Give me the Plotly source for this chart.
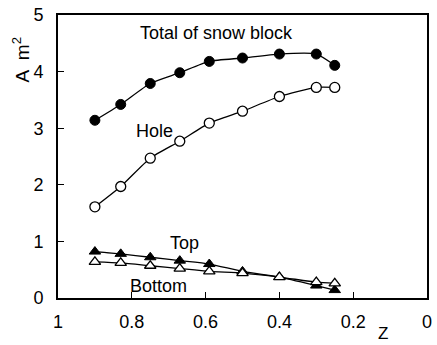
import plotly.graph_objects as go

# Relative position Z along the block (axis runs from 1 down to 0)
z = [0.9, 0.83, 0.75, 0.67, 0.59, 0.5, 0.4, 0.3, 0.25]

# Areas in m^2
total_area = [3.14, 3.42, 3.79, 3.98, 4.18, 4.24, 4.31, 4.31, 4.11]
hole_area = [1.61, 1.97, 2.47, 2.77, 3.09, 3.30, 3.56, 3.72, 3.72]
top_area = [0.82, 0.78, 0.72, 0.66, 0.60, 0.47, 0.37, 0.22, 0.14]
bottom_area = [0.64, 0.62, 0.57, 0.52, 0.47, 0.44, 0.37, 0.28, 0.26]

x_ticks = [1, 0.8, 0.6, 0.4, 0.2, 0]
x_tick_text = ["1", "0.8", "0.6", "0.4", "0.2", "0"]
y_ticks = [0, 1, 2, 3, 4, 5]

FONT = "Liberation Sans, Arial, sans-serif"
line_style = dict(color="black", width=1.3, shape="spline", smoothing=0.6)

fig = go.Figure()

fig.add_trace(go.Scatter(
    x=z, y=total_area, mode="lines+markers", line=line_style,
    marker=dict(symbol="circle", size=10, color="black",
                line=dict(color="black", width=1)),
))
fig.add_trace(go.Scatter(
    x=z, y=hole_area, mode="lines+markers", line=line_style,
    marker=dict(symbol="circle", size=10, color="white",
                line=dict(color="black", width=1.3)),
))
fig.add_trace(go.Scatter(
    x=z, y=top_area, mode="lines+markers", line=line_style,
    marker=dict(symbol="triangle-up", size=10, color="black",
                line=dict(color="black", width=1)),
))
fig.add_trace(go.Scatter(
    x=z, y=bottom_area, mode="lines+markers", line=line_style,
    marker=dict(symbol="triangle-up", size=10, color="white",
                line=dict(color="black", width=1.3)),
))

labels = [
    ("Total of snow block", 0.57, 4.68),
    ("Hole", 0.738, 2.95),
    ("Top", 0.658, 0.98),
    ("Bottom", 0.727, 0.22),
]
for text, lx, ly in labels:
    fig.add_annotation(x=lx, y=ly, text=text, showarrow=False,
                       xanchor="center", yanchor="middle",
                       font=dict(family=FONT, size=18, color="black"))

# Axis titles
fig.add_annotation(xref="paper", yref="paper", x=-0.1, y=0.84,
                   xanchor="center", yanchor="middle",
                   text="A  m<sup>2</sup>", textangle=-90, showarrow=False,
                   font=dict(family=FONT, size=19, color="black"))
fig.add_annotation(xref="paper", yref="paper", x=0.88, y=-0.124,
                   xanchor="center", yanchor="middle",
                   text="Z", showarrow=False,
                   font=dict(family=FONT, size=17, color="black"))

fig.update_layout(
    width=437, height=345,
    margin=dict(l=58, r=5, t=8, b=47),
    paper_bgcolor="white", plot_bgcolor="white",
    showlegend=False,
    font=dict(family=FONT, size=18, color="black"),
    xaxis=dict(range=[1, 0], tickvals=x_ticks, ticktext=x_tick_text,
               ticks="inside", ticklen=6, tickwidth=1.2, tickcolor="black",
               ticklabelstandoff=6, ticklabeloverflow="allow",
               showline=True, linewidth=2, linecolor="black", mirror=True,
               showgrid=False, zeroline=False),
    yaxis=dict(range=[0, 5], tickvals=y_ticks,
               ticks="inside", ticklen=6, tickwidth=1.2, tickcolor="black",
               ticklabelstandoff=9, ticklabeloverflow="allow",
               showline=True, linewidth=2, linecolor="black", mirror=True,
               showgrid=False, zeroline=False),
)

fig.write_html("out.html")
